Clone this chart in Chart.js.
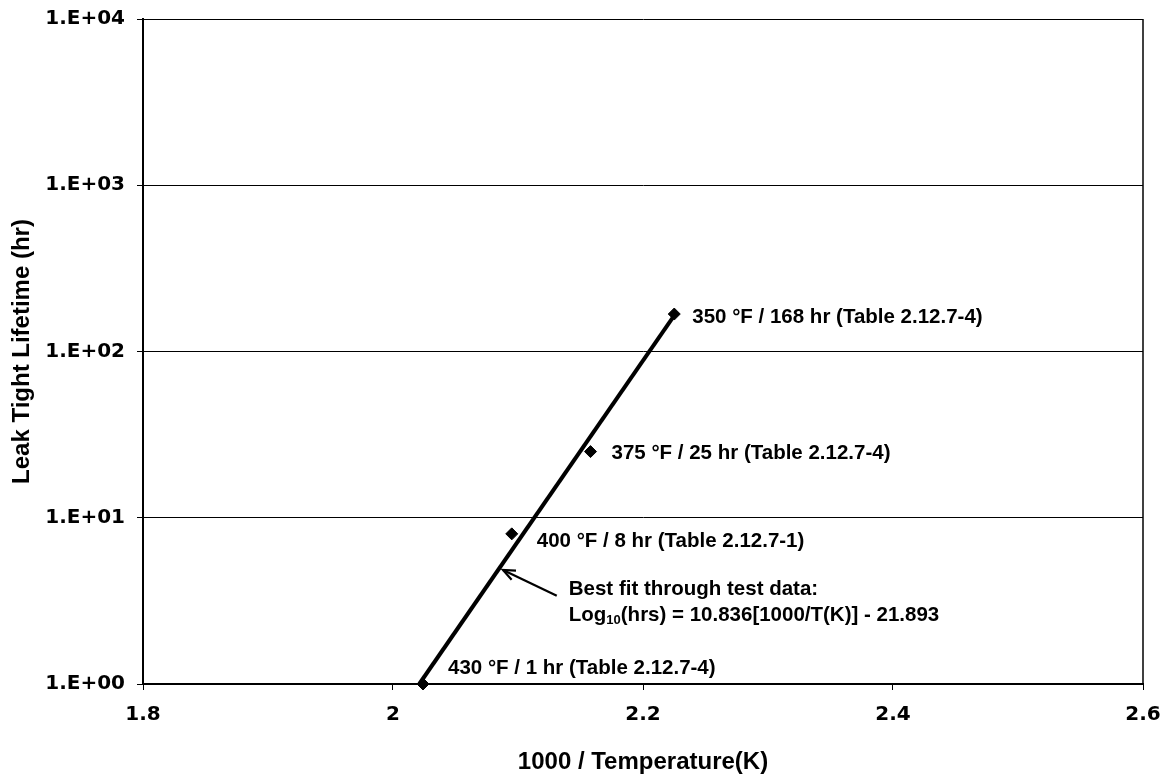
<!DOCTYPE html>
<html>
<head>
<meta charset="utf-8">
<script src="https://cdn.jsdelivr.net/npm/chart.js@4.4.1/dist/chart.umd.min.js"></script>
<style>
html, body { margin: 0; padding: 0; background: #fff; }
#wrap { width: 1170px; height: 779px; }
</style>
</head>
<body>
<div id="wrap"><canvas id="leakChart" width="1170" height="779"></canvas></div>
<script>
// test data: 1000/T(K) vs leak tight lifetime (hr)
var invTemp = [2.024, 2.095, 2.158, 2.225];
var lifeHours = [1, 8, 25, 168];
var pointNotes = [
    '430 °F / 1 hr (Table 2.12.7-4)',
    '400 °F / 8 hr (Table 2.12.7-1)',
    '375 °F / 25 hr (Table 2.12.7-4)',
    '350 °F / 168 hr (Table 2.12.7-4)'
];

// best fit line end points
var fitInvTemp = [2.021, 2.226];
var fitHours = [1.0, 169];

var xTicks = [1.8, 2.0, 2.2, 2.4, 2.6];
var xTickLabels = ['1.8', '2', '2.2', '2.4', '2.6'];
var yTicks = [1, 10, 100, 1000, 10000];
var yTickLabels = ['1.E+00', '1.E+01', '1.E+02', '1.E+03', '1.E+04'];

var fitTitle = 'Best fit through test data:';
var fitFormula = ['Log', '10', '(hrs) = 10.836[1000/T(K)] - 21.893'];
var arrowTail = { x: 2.131, y: 3.4 };
var arrowTip = { x: 2.088, y: 4.85 };

// label offsets in px from each point
var noteOffsets = [[25, -16], [25, 7], [21, 2], [18, 3]];

var noteFont = 'bold 20.5px "Liberation Sans", Arial, sans-serif';

var framePlugin = {
    id: 'frame',
    afterDraw: function (chart) {
        var c = chart.ctx, a = chart.chartArea;
        c.save();
        c.strokeStyle = '#000';
        c.lineWidth = 1.5;
        c.beginPath();
        c.moveTo(a.right, a.top);
        c.lineTo(a.right, a.bottom);
        c.stroke();
        c.restore();
    }
};

var notesPlugin = {
    id: 'notes',
    afterDatasetsDraw: function (chart) {
        var c = chart.ctx;
        var xs = chart.scales.x, ys = chart.scales.y;
        c.save();
        c.fillStyle = '#000';
        c.strokeStyle = '#000';
        c.font = noteFont;
        c.textBaseline = 'middle';
        c.textAlign = 'left';

        for (var i = 0; i < pointNotes.length; i++) {
            var px = xs.getPixelForValue(invTemp[i]) + noteOffsets[i][0];
            var py = ys.getPixelForValue(lifeHours[i]) + noteOffsets[i][1];
            c.fillText(pointNotes[i], px, py);
        }

        // arrow to the fit line
        var tx = xs.getPixelForValue(arrowTail.x), ty = ys.getPixelForValue(arrowTail.y);
        var hx = xs.getPixelForValue(arrowTip.x), hy = ys.getPixelForValue(arrowTip.y);
        c.lineWidth = 2.2;
        c.beginPath();
        c.moveTo(tx, ty);
        c.lineTo(hx, hy);
        c.stroke();
        var ang = Math.atan2(hy - ty, hx - tx);
        c.beginPath();
        c.moveTo(hx - 13 * Math.cos(ang - 0.4), hy - 13 * Math.sin(ang - 0.4));
        c.lineTo(hx, hy);
        c.lineTo(hx - 13 * Math.cos(ang + 0.4), hy - 13 * Math.sin(ang + 0.4));
        c.stroke();

        // fit text
        var lx = tx + 12;
        c.fillText(fitTitle, lx, ty - 6);
        var ly = ty + 20;
        c.fillText(fitFormula[0], lx, ly);
        var w = c.measureText(fitFormula[0]).width;
        c.font = 'bold 13px "Liberation Sans", Arial, sans-serif';
        c.fillText(fitFormula[1], lx + w, ly + 5);
        var w2 = c.measureText(fitFormula[1]).width;
        c.font = noteFont;
        c.fillText(fitFormula[2], lx + w + w2, ly);
        c.restore();
    }
};

var ctx = document.getElementById('leakChart').getContext('2d');
var leakChart = new Chart(ctx, {
    type: 'scatter',
    data: {
        datasets: [{
            label: 'Test data',
            data: invTemp.map(function (x, i) { return { x: x, y: lifeHours[i] }; }),
            pointStyle: 'rectRot',
            pointRadius: 6,
            backgroundColor: '#000',
            borderColor: '#000',
            borderWidth: 1,
            clip: false
        }, {
            label: 'Best fit',
            data: fitInvTemp.map(function (x, i) { return { x: x, y: fitHours[i] }; }),
            showLine: true,
            borderColor: '#000',
            borderWidth: 4,
            pointRadius: 0,
            clip: false
        }]
    },
    options: {
        responsive: false,
        animation: false,
        devicePixelRatio: 1,
        layout: { padding: { left: 0, right: 27, top: 19, bottom: 0 } },
        plugins: {
            legend: { display: false },
            tooltip: { enabled: false }
        },
        scales: {
            x: {
                type: 'linear',
                min: 1.8,
                max: 2.6,
                afterBuildTicks: function (s) { s.ticks = xTicks.map(function (v) { return { value: v }; }); },
                afterFit: function (s) {
                    s.height = 95;
                    s.paddingLeft = 0;
                    s.paddingRight = 0;
                },
                grid: { drawOnChartArea: false, tickLength: 6, color: '#000', lineWidth: 1 },
                border: { color: '#000', width: 2 },
                ticks: {
                    padding: 13,
                    color: '#000',
                    autoSkip: false,
                    maxRotation: 0,
                    font: { family: '"DejaVu Sans"', weight: 'bold', size: 20 },
                    callback: function (v, i) { return xTickLabels[i]; }
                },
                title: {
                    display: true,
                    text: '1000 / Temperature(K)',
                    color: '#000',
                    font: { family: '"Liberation Sans", Arial', weight: 'bold', size: 24, lineHeight: 1.2 },
                    padding: { top: 0, bottom: 2 }
                }
            },
            y: {
                type: 'logarithmic',
                min: 1,
                max: 10000,
                afterBuildTicks: function (s) { s.ticks = yTicks.map(function (v) { return { value: v }; }); },
                afterFit: function (s) {
                    s.width = 143;
                    s.paddingTop = 0;
                    s.paddingBottom = 0;
                },
                grid: { color: '#000', lineWidth: 1, tickLength: 6 },
                border: { color: '#000', width: 2 },
                ticks: {
                    padding: 12,
                    color: '#000',
                    autoSkip: false,
                    font: { family: '"DejaVu Sans"', weight: 'bold', size: 20 },
                    callback: function (v, i) { return yTickLabels[i]; }
                },
                title: {
                    display: true,
                    text: 'Leak Tight Lifetime (hr)',
                    color: '#000',
                    font: { family: '"Liberation Sans", Arial', weight: 'bold', size: 24, lineHeight: 1.2 },
                    padding: { top: 8, bottom: 0 }
                }
            }
        }
    },
    plugins: [framePlugin, notesPlugin]
});
</script>
</body>
</html>
